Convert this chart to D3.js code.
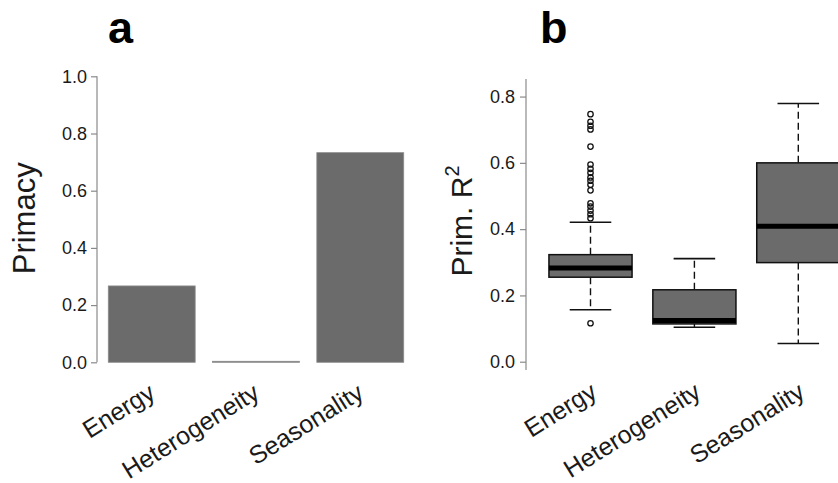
<!DOCTYPE html>
<html><head><meta charset="utf-8">
<script src="https://cdn.jsdelivr.net/npm/d3@7"></script>
<style>body{margin:0;background:#fff} svg{display:block} text{font-family:"Liberation Sans",Arial,Helvetica,sans-serif}</style>
</head><body><svg id="c" width="838" height="483"></svg>
<script>
const categories = ["Energy", "Heterogeneity", "Seasonality"];
const primacy = [0.267, 0.0, 0.733];
const primacyTicks = [0, 0.2, 0.4, 0.6, 0.8, 1.0];
const boxWhiskerLow = [0.157, 0.104, 0.055];
const boxQ1 = [0.255, 0.114, 0.299];
const boxMedian = [0.283, 0.124, 0.409];
const boxQ3 = [0.323, 0.217, 0.600];
const boxWhiskerHigh = [0.421, 0.311, 0.779];
const energyOutliers = [0.747, 0.724, 0.712, 0.701, 0.649, 0.595, 0.582, 0.570, 0.556, 0.546, 0.534, 0.517, 0.478, 0.468, 0.456, 0.445, 0.433, 0.116];
const r2Ticks = [0, 0.2, 0.4, 0.6, 0.8];

const svg = d3.select("#c");
const fillGray = "#6b6b6b";
const axisGray = "#8a8a8a";
const textCol = "#1a1a1a";

// ---------- Panel a ----------
const xa = d3.scaleBand().domain(categories).range([99.6, 412.4]).paddingInner(1/6).paddingOuter(1/12);
const ya = d3.scaleLinear().domain([0, 1]).range([362.3, 76.3]);

svg.append("text").attr("x", 108).attr("y", 43).attr("font-size", 45).attr("font-weight", "bold").attr("fill", "#000").text("a");

const axA = svg.append("g").attr("transform", "translate(97,0)")
  .call(d3.axisLeft(ya).tickValues(primacyTicks).tickFormat(d3.format(".1f")).tickSize(6).tickPadding(4));
axA.select(".domain").attr("stroke", axisGray).attr("stroke-width", 1.2).attr("d", `M0,${ya(0)}V${ya(1)}`);
axA.selectAll(".tick line").attr("stroke", axisGray).attr("stroke-width", 1.2);
axA.selectAll(".tick text").attr("font-size", 18).attr("fill", textCol).attr("font-family", '"Liberation Sans",Arial,sans-serif');

svg.append("text").attr("transform", `translate(35,${(ya(0)+ya(1))/2 - 1}) rotate(-90)`)
  .attr("text-anchor", "middle").attr("font-size", 31).attr("fill", textCol).text("Primacy");

svg.append("g").selectAll("rect").data(categories).join("rect")
  .attr("x", d => xa(d)).attr("width", xa.bandwidth())
  .attr("y", (d, i) => Math.min(ya(primacy[i]), ya(0) - 1)).attr("height", (d, i) => Math.max(ya(0) - ya(primacy[i]), 1))
  .attr("fill", fillGray).attr("stroke", "#8c8c8c").attr("stroke-width", 0.8);

svg.append("g").selectAll("text").data(categories).join("text")
  .attr("transform", d => `translate(${xa(d) + xa.bandwidth()/2 + 5},397) rotate(-32)`)
  .attr("text-anchor", "end").attr("font-size", 25).attr("fill", textCol).text(d => d);

// ---------- Panel b ----------
const xb = d3.scalePoint().domain(categories).range([590.5, 798.3]);
const step = xb.step();
const boxW = step * 0.8;
const yb = d3.scaleLinear().domain([-0.025, 0.853]).range([370, 79]);

svg.append("text").attr("x", 540).attr("y", 43).attr("font-size", 45).attr("font-weight", "bold").attr("fill", "#000").text("b");

const axB = svg.append("g").attr("transform", "translate(526,0)")
  .call(d3.axisLeft(yb).tickValues(r2Ticks).tickFormat(d3.format(".1f")).tickSize(6).tickPadding(5));
axB.select(".domain").attr("stroke", axisGray).attr("stroke-width", 1.2).attr("d", `M0,${yb.range()[0]}V${yb.range()[1]}`);
axB.selectAll(".tick line").attr("stroke", axisGray).attr("stroke-width", 1.2);
axB.selectAll(".tick text").attr("font-size", 18).attr("fill", textCol).attr("font-family", '"Liberation Sans",Arial,sans-serif');

const yl = svg.append("text").attr("transform", `translate(472,221) rotate(-90)`)
  .attr("text-anchor", "middle").attr("font-size", 30).attr("fill", textCol);
yl.append("tspan").text("Prim. R");
yl.append("tspan").attr("font-size", 20).attr("dy", -13).text("2");

const boxes = svg.append("g").selectAll("g").data(categories).join("g");
// whiskers
boxes.append("line").attr("x1", d => xb(d)).attr("x2", d => xb(d))
  .attr("y1", (d, i) => yb(boxQ3[i])).attr("y2", (d, i) => yb(boxWhiskerHigh[i]))
  .attr("stroke", "#111").attr("stroke-width", 1.4).attr("stroke-dasharray", "7,4");
boxes.append("line").attr("x1", d => xb(d)).attr("x2", d => xb(d))
  .attr("y1", (d, i) => yb(boxQ1[i])).attr("y2", (d, i) => yb(boxWhiskerLow[i]))
  .attr("stroke", "#111").attr("stroke-width", 1.4).attr("stroke-dasharray", "7,4");
// caps
boxes.append("line").attr("x1", d => xb(d) - boxW/4).attr("x2", d => xb(d) + boxW/4)
  .attr("y1", (d, i) => yb(boxWhiskerHigh[i])).attr("y2", (d, i) => yb(boxWhiskerHigh[i]))
  .attr("stroke", "#111").attr("stroke-width", 1.6);
boxes.append("line").attr("x1", d => xb(d) - boxW/4).attr("x2", d => xb(d) + boxW/4)
  .attr("y1", (d, i) => yb(boxWhiskerLow[i])).attr("y2", (d, i) => yb(boxWhiskerLow[i]))
  .attr("stroke", "#111").attr("stroke-width", 1.6);
// box
boxes.append("rect").attr("x", d => xb(d) - boxW/2).attr("width", boxW)
  .attr("y", (d, i) => yb(boxQ3[i])).attr("height", (d, i) => yb(boxQ1[i]) - yb(boxQ3[i]))
  .attr("fill", fillGray).attr("stroke", "#111").attr("stroke-width", 1.5);
// median
boxes.append("line").attr("x1", d => xb(d) - boxW/2).attr("x2", d => xb(d) + boxW/2)
  .attr("y1", (d, i) => yb(boxMedian[i])).attr("y2", (d, i) => yb(boxMedian[i]))
  .attr("stroke", "#000").attr("stroke-width", 5);
// outliers
svg.append("g").selectAll("circle").data(energyOutliers).join("circle")
  .attr("cx", xb("Energy")).attr("cy", d => yb(d)).attr("r", 2.7)
  .attr("fill", "none").attr("stroke", "#111").attr("stroke-width", 1.3);

svg.append("g").selectAll("text").data(categories).join("text")
  .attr("transform", d => `translate(${xb(d) + 8},396) rotate(-32)`)
  .attr("text-anchor", "end").attr("font-size", 25).attr("fill", textCol).text(d => d);
</script>
</body></html>
